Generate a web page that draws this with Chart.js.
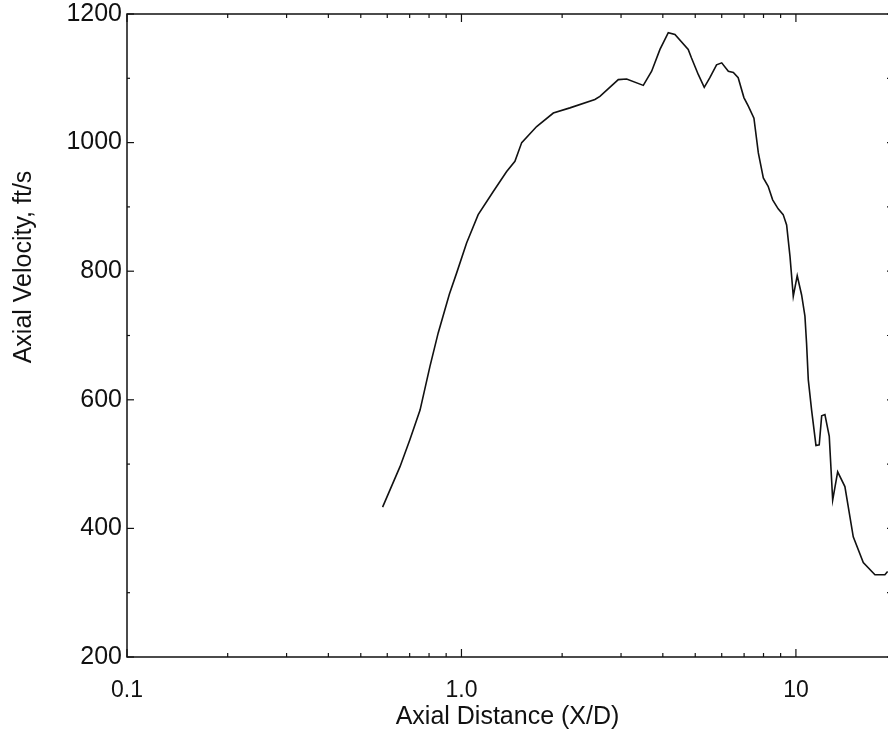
<!DOCTYPE html>
<html>
<head>
<meta charset="utf-8">
<script src="https://cdn.jsdelivr.net/npm/chart.js@4.4.1/dist/chart.umd.min.js"></script>
<style>
    html, body { margin: 0; padding: 0; background: #fff; overflow: hidden; }
    #wrap { position: relative; width: 888px; height: 735px; }
</style>
</head>
<body>
<div id="wrap"><canvas id="grafico"></canvas></div>
<script>
// axial distance (X/D) and axial velocity (ft/s)
const distancias = [0.581, 0.655, 0.701, 0.752, 0.805, 0.852, 0.92, 0.967, 1.036, 1.122,
    1.245, 1.365, 1.445, 1.514, 1.678, 1.882, 2.11, 2.506, 2.594, 2.944,
    3.118, 3.497, 3.704, 3.922, 4.153, 4.348, 4.764, 4.87, 5.105, 5.32,
    5.53, 5.79, 6.0, 6.28, 6.5, 6.72, 6.99, 7.2, 7.49, 7.72,
    7.99, 8.26, 8.52, 8.85, 9.16, 9.38, 9.6, 9.82, 10.09, 10.4,
    10.64, 10.76, 10.89, 11.14, 11.48, 11.74, 11.94, 12.21, 12.58, 12.88,
    13.33, 14.01, 14.84, 15.9, 17.23, 18.45, 18.8]
const velocidades = [433, 496, 538, 584, 652, 704, 764, 797, 844, 888,
    924, 955, 971, 1000, 1025, 1046, 1054, 1067, 1072, 1098,
    1099, 1089, 1111, 1145, 1171, 1168, 1145, 1132, 1106, 1086,
    1101, 1121, 1124, 1111, 1109, 1101, 1070, 1057, 1038, 984,
    945, 932, 911, 897, 888, 872, 823, 761, 793, 763,
    730, 688, 631, 584, 529, 530, 575, 577, 543, 444,
    488, 465, 387, 347, 328, 328, 333]

const xTicks = [0.1, 1, 10]
const xLabels = ["0.1", "1.0", "10"]
const xMinor = [0.2, 0.3, 0.4, 0.5, 0.6, 0.7, 0.8, 0.9, 2, 3, 4, 5, 6, 7, 8, 9]
const yTicks = [200, 400, 600, 800, 1000, 1200]
const yLabels = ["200", "400", "600", "800", "1000", "1200"]
const yMinor = [300, 500, 700, 900, 1100]

const tinta = "#111"
const fonte = "'Liberation Sans', Arial, Helvetica, sans-serif"

// box (right side runs off the page), inward ticks and the y title
const moldura = {
    id: "moldura",
    afterDatasetsDraw(chart) {
        const { ctx, chartArea: a, scales } = chart
        ctx.save()
        ctx.strokeStyle = tinta
        ctx.lineWidth = 1.5
        ctx.beginPath()
        ctx.moveTo(a.right + 5, a.top)
        ctx.lineTo(a.left, a.top)
        ctx.lineTo(a.left, a.bottom)
        ctx.lineTo(a.right + 5, a.bottom)
        ctx.stroke()

        ctx.lineWidth = 1.2
        const tick = (x1, y1, x2, y2) => {
            ctx.beginPath()
            ctx.moveTo(x1, y1)
            ctx.lineTo(x2, y2)
            ctx.stroke()
        }
        xTicks.concat(xMinor).forEach((v) => {
            const len = xTicks.includes(v) ? 8 : 4
            const px = scales.x.getPixelForValue(v)
            tick(px, a.bottom, px, a.bottom - len)
            tick(px, a.top, px, a.top + len)
        })
        yTicks.concat(yMinor).forEach((v) => {
            const len = yTicks.includes(v) ? 7 : 3
            const py = scales.y.getPixelForValue(v)
            tick(a.left, py, a.left + len, py)
            tick(a.right + 1, py, a.right - 1, py)
        })

        ctx.translate(24, 267)
        ctx.rotate(-Math.PI / 2)
        ctx.fillStyle = tinta
        ctx.font = "25px " + fonte
        ctx.textAlign = "center"
        ctx.textBaseline = "middle"
        ctx.fillText("Axial Velocity, ft/s", 0, 0)
        ctx.restore()
    }
}

new Chart(document.getElementById("grafico"), {
    type: "line",
    data: {
        datasets: [{
            data: distancias.map((d, i) => ({ x: d, y: velocidades[i] })),
            borderColor: tinta,
            borderWidth: 1.6,
            pointRadius: 0,
            tension: 0,
            fill: false
        }]
    },
    options: {
        responsive: true,
        maintainAspectRatio: false,
        animation: false,
        layout: { autoPadding: false, padding: { top: 14, right: 0, left: 0, bottom: 0 } },
        plugins: {
            legend: { display: false },
            tooltip: { enabled: false }
        },
        scales: {
            x: {
                type: "logarithmic",
                min: 0.1,
                max: 18.85,
                grid: { display: false, drawTicks: false },
                border: { display: false },
                afterBuildTicks: (scale) => {
                    scale.ticks = xTicks.map((v) => ({ value: v }))
                },
                afterFit: (scale) => { scale.height = 78 },
                ticks: {
                    autoSkip: false,
                    maxRotation: 0,
                    padding: 20,
                    color: tinta,
                    font: { family: fonte, size: 23 },
                    callback: (value, index) => xLabels[index]
                },
                title: {
                    display: true,
                    text: "Axial Distance (X/D)",
                    color: tinta,
                    font: { family: fonte, size: 25 },
                    padding: { top: 0, bottom: 3 }
                }
            },
            y: {
                min: 200,
                max: 1200,
                grid: { display: false, drawTicks: false },
                border: { display: false },
                afterBuildTicks: (scale) => {
                    scale.ticks = yTicks.map((v) => ({ value: v }))
                },
                afterFit: (scale) => {
                    scale.width = 127
                    scale.paddingTop = 0
                    scale.paddingBottom = 0
                },
                ticks: {
                    padding: 5,
                    color: tinta,
                    font: { family: fonte, size: 25, lineHeight: 0.8 },
                    callback: (value, index) => yLabels[index]
                }
            }
        }
    },
    plugins: [moldura]
})
</script>
</body>
</html>
